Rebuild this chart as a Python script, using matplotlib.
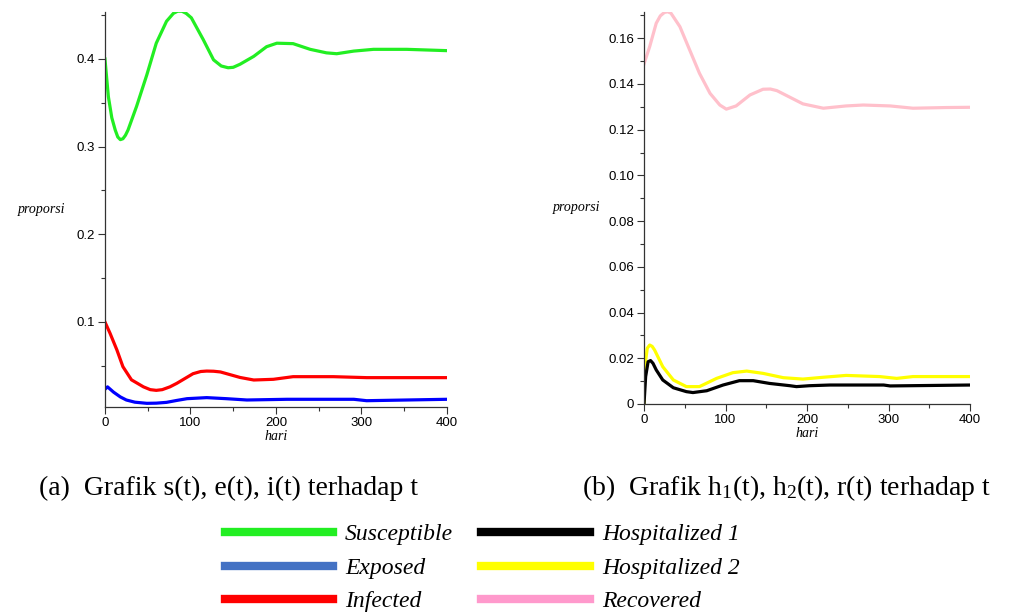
import matplotlib
matplotlib.use("Agg")
import matplotlib.pyplot as plt
from matplotlib.lines import Line2D
from matplotlib.ticker import MultipleLocator, FormatStrFormatter, FuncFormatter

plt.rcParams['mathtext.fontset'] = 'custom'
plt.rcParams['mathtext.rm'] = 'Liberation Serif'
plt.rcParams['mathtext.it'] = 'Liberation Serif:italic'

# ===== DATA =====
# panel (a): s(t), e(t), i(t)
t_s = [0, 4, 8, 12, 15, 18, 21, 24, 27, 37, 49, 60, 72, 80, 85, 90, 95, 101, 115, 127,
       136, 144, 150, 158, 174, 189, 201, 220, 240, 259, 271, 291, 314, 353, 400]
s_val = [0.400, 0.357, 0.333, 0.319, 0.311, 0.308, 0.309, 0.313, 0.319, 0.346, 0.382,
         0.418, 0.443, 0.452, 0.4545, 0.4545, 0.452, 0.447, 0.422, 0.399, 0.392, 0.390,
         0.3905, 0.394, 0.403, 0.414, 0.418, 0.4175, 0.411, 0.407, 0.406, 0.409, 0.411,
         0.411, 0.4095]

t_e = [0, 3, 10, 18, 25, 35, 49, 60, 72, 84, 96, 119, 142, 166, 213, 291, 306, 400]
e_val = [0.0232, 0.026, 0.020, 0.0145, 0.011, 0.0085, 0.0072, 0.0074, 0.0083, 0.0105,
         0.0125, 0.0137, 0.0125, 0.011, 0.0118, 0.0118, 0.0102, 0.0118]

t_i = [0, 6, 14, 21, 31, 45, 53, 60, 67, 76, 84, 103, 112, 119, 127, 135, 158, 174,
       197, 220, 267, 306, 400]
i_val = [0.100, 0.087, 0.068, 0.049, 0.034, 0.026, 0.0228, 0.022, 0.0228, 0.026, 0.030,
         0.041, 0.0435, 0.044, 0.0438, 0.043, 0.0367, 0.0338, 0.0346, 0.0376, 0.0376,
         0.0365, 0.0365]

# panel (b): h1(t), h2(t), r(t)
t_h1 = [0, 2, 5, 8, 11, 15, 23, 36, 52, 60, 77, 97, 117, 134, 154, 179, 187, 203, 228,
        294, 302, 326, 400]
h1_val = [0.0, 0.012, 0.0185, 0.019, 0.0178, 0.0149, 0.0105, 0.0071, 0.0054, 0.0050,
          0.0058, 0.0083, 0.0102, 0.0102, 0.0090, 0.0080, 0.0076, 0.0080, 0.0083,
          0.0083, 0.0079, 0.0080, 0.0083]

t_h2 = [0, 1, 4, 7, 10, 13, 23, 36, 52, 68, 89, 109, 126, 146, 171, 195, 220, 248, 289,
        310, 330, 400]
h2_val = [0.0, 0.0163, 0.0244, 0.0258, 0.0252, 0.0236, 0.0163, 0.0105, 0.0076, 0.0076,
          0.0112, 0.0137, 0.0144, 0.0134, 0.0115, 0.0109, 0.0117, 0.0125, 0.0120,
          0.0112, 0.0120, 0.0120]

t_r = [0, 7, 15, 20, 25, 29, 33, 44, 56, 68, 81, 93, 101, 113, 130, 146, 155, 163, 179,
       195, 220, 248, 269, 302, 330, 371, 400]
r_val = [0.1488, 0.1564, 0.1666, 0.1698, 0.1713, 0.1716, 0.1710, 0.1651, 0.1549,
         0.1447, 0.1359, 0.1308, 0.1290, 0.1304, 0.1352, 0.1377, 0.1378, 0.1371,
         0.1342, 0.1313, 0.1294, 0.1304, 0.1308, 0.1304, 0.1294, 0.1297, 0.1298]

col_s, col_e, col_i = '#22ee22', '#0000ff', '#ff0000'
col_h1, col_h2, col_r = '#000000', '#ffff00', '#ffc0cb'

# ===== FIGURE =====
fig = plt.figure(figsize=(10.15, 6.15), dpi=100)
ax1 = fig.add_axes([0.1034, 0.3382, 0.337, 0.6423])
ax2 = fig.add_axes([0.6345, 0.3431, 0.3212, 0.6374])

ax1.plot(t_s, s_val, color=col_s, lw=2.3)
ax1.plot(t_e, e_val, color=col_e, lw=2.3)
ax1.plot(t_i, i_val, color=col_i, lw=2.3)
ax1.set_xlim(0, 400)
ax1.set_ylim(0.003, 0.4536)
ax1.yaxis.set_major_locator(MultipleLocator(0.1))
ax1.yaxis.set_minor_locator(MultipleLocator(0.05))
ax1.yaxis.set_major_formatter(FormatStrFormatter('%.1f'))

ax2.plot(t_r, r_val, color=col_r, lw=2.3)
ax2.plot(t_h2, h2_val, color=col_h2, lw=2.3)
ax2.plot(t_h1, h1_val, color=col_h1, lw=2.3)
ax2.set_xlim(0, 400)
ax2.set_ylim(0, 0.1715)
ax2.yaxis.set_major_locator(MultipleLocator(0.02))
ax2.yaxis.set_minor_locator(MultipleLocator(0.01))
ax2.yaxis.set_major_formatter(
    FuncFormatter(lambda v, p: '0' if abs(v) < 1e-9 else '%.2f' % v))

for ax in (ax1, ax2):
    ax.spines['top'].set_visible(False)
    ax.spines['right'].set_visible(False)
    for sp in ('left', 'bottom'):
        ax.spines[sp].set_linewidth(0.9)
        ax.spines[sp].set_color('#333333')
    ax.xaxis.set_major_locator(MultipleLocator(100))
    ax.xaxis.set_minor_locator(MultipleLocator(50))
    ax.tick_params(which='major', length=5, width=0.8, color='#333333',
                   labelsize=9.5, pad=2)
    ax.tick_params(which='minor', length=3, width=0.8, color='#333333')
    for lab in ax.get_xticklabels() + ax.get_yticklabels():
        lab.set_fontfamily('Liberation Sans')
    ax.set_xlabel('hari', fontstyle='italic', family='Liberation Serif',
                  fontsize=10, labelpad=1)
    ax.set_ylabel('proporsi', fontstyle='italic', family='Liberation Serif',
                  fontsize=10, rotation=0, ha='right', va='center')

ax1.yaxis.set_label_coords(-0.117, 0.5)
ax2.yaxis.set_label_coords(-0.135, 0.5)

# captions
fig.text(0.0384, 0.2065, '(a)  Grafik s(t), e(t), i(t) terhadap t',
         family='Liberation Serif', fontsize=20, va='center')
fig.text(0.5734, 0.2065,
         r'(b)  Grafik h$_1$(t), h$_2$(t), r(t) terhadap t',
         family='Liberation Serif', fontsize=20, va='center')

# legend
handles = [
    Line2D([], [], color='#22ee22', lw=6),
    Line2D([], [], color='#4472c4', lw=6),
    Line2D([], [], color='#ff0000', lw=6),
    Line2D([], [], color='#000000', lw=6),
    Line2D([], [], color='#ffff00', lw=6),
    Line2D([], [], color='#ff99cc', lw=6),
]
labels = ['Susceptible', 'Exposed', 'Infected',
          'Hospitalized 1', 'Hospitalized 2', 'Recovered']
fig.legend(handles, labels, ncol=2, loc='center', bbox_to_anchor=(0.475, 0.0764),
           frameon=False, handlelength=4.6, handletextpad=0.5, columnspacing=1.2,
           labelspacing=0.5, borderpad=0.1,
           prop={'family': 'Liberation Serif', 'style': 'italic', 'size': 17})

fig.savefig('out.png', dpi=100)
